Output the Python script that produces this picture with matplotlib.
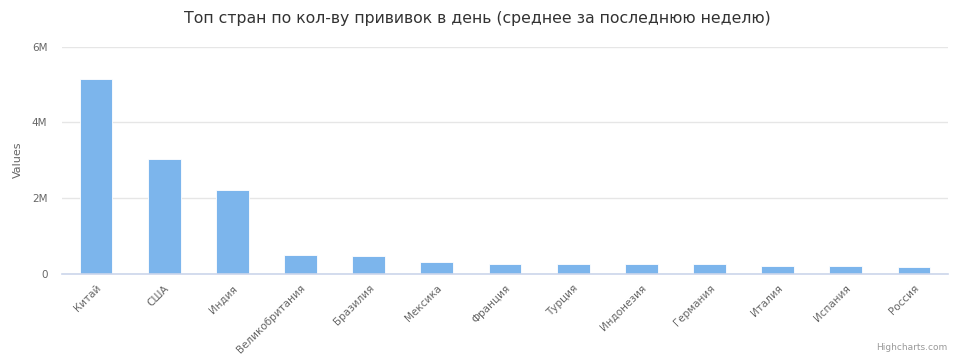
import matplotlib
matplotlib.use("Agg")
import matplotlib.pyplot as plt
from matplotlib.ticker import FuncFormatter

countries = ["Китай", "США", "Индия", "Великобритания", "Бразилия", "Мексика",
             "Франция", "Турция", "Индонезия", "Германия", "Италия", "Испания", "Россия"]
values = [5.14e6, 3.04e6, 2.21e6, 0.49e6, 0.475e6, 0.31e6,
          0.26e6, 0.26e6, 0.24e6, 0.24e6, 0.21e6, 0.195e6, 0.17e6]
y_ticks = [0, 2e6, 4e6, 6e6]
title = "Топ стран по кол-ву прививок в день (среднее за последнюю неделю)"

plt.rcParams['font.family'] = ['DejaVu Sans']
fig = plt.figure(figsize=(9.55, 3.58), dpi=100)
ax_w = (948 - 62) / 955
ax = fig.add_axes([62/955, 1 - 273.5/358, ax_w, (273.5 - 46.7)/358])

x = list(range(len(countries)))
ax.bar(x, values, width=0.48, color="#7cb5ec", edgecolor="white", linewidth=0.6, zorder=3)
ax.set_xlim(-0.5, len(countries) - 0.5)
ax.set_ylim(0, 6e6)
ax.set_yticks(y_ticks)
ax.yaxis.set_major_formatter(FuncFormatter(lambda v, p: "0" if v == 0 else f"{v/1e6:.0f}M"))
ax.grid(axis="y", color="#e6e6e6", linewidth=1, zorder=0)
for s in ["top", "right", "left"]:
    ax.spines[s].set_visible(False)
ax.spines["bottom"].set_color("#ccd6eb")
ax.spines["bottom"].set_linewidth(1.2)
ax.spines["bottom"].set_zorder(4)
ax.tick_params(axis="y", length=0, pad=10.5, labelsize=7.5, labelcolor="#666666")
ax.tick_params(axis="x", length=0, pad=7, labelsize=7.5, labelcolor="#666666")
ax.set_xticks(x)
ax.set_xticklabels(countries, rotation=45, ha="right", rotation_mode="anchor")
ax.set_ylabel("Values", fontsize=8, color="#666666", va="center")
ax.yaxis.set_label_coords((18 - 62) / 886, 0.5)

fig.text(0.5, 1 - 18/358, title, ha="center", va="center", fontsize=11.3, color="#333333")
fig.text(1 - 8/955, 1 - 352/358, "Highcharts.com", ha="right", va="bottom", fontsize=6.5, color="#999999")

fig.savefig("out.png", dpi=100)
